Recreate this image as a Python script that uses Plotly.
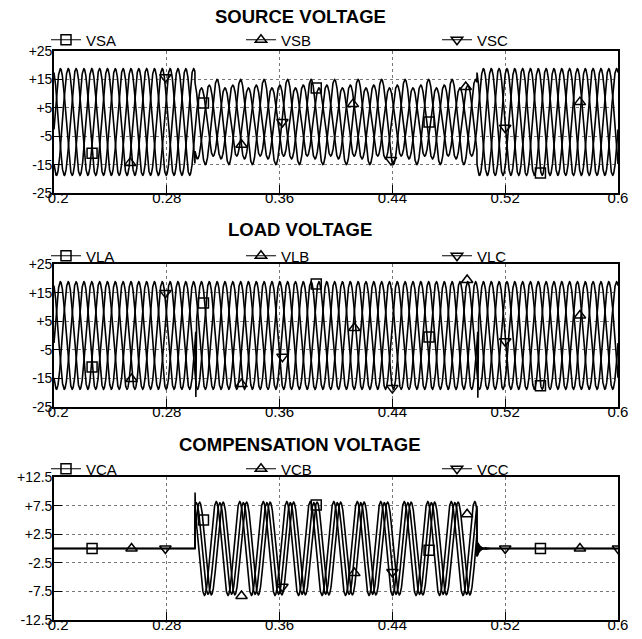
import numpy as np
import plotly.graph_objects as go

# ---------------- data ----------------
FREQ_HZ = 60.0
T_START, T_END = 0.2, 0.6
SAG_START, SAG_END = 0.3, 0.5

X_TICKS = [0.2, 0.28, 0.36, 0.44, 0.52, 0.6]
X_TICK_LABELS = ["\u00a0\u00a00.2", "0.28", "0.36", "0.44", "0.52", "0.6"]
V_TICKS = [25, 15, 5, -5, -15, -25]
V_TICK_LABELS = ["+25", "+15", "+5", "-5", "-15", "-25"]
C_TICKS = [12.5, 7.5, 2.5, -2.5, -7.5, -12.5]
C_TICK_LABELS = ["+12.5", "+7.5", "+2.5", "-2.5", "-7.5", "-12.5"]

PHASE_ANGLES_DEG = [-8, -128, 112]          # phases A, B, C
SOURCE_AMP_NORMAL = [18.8, 18.8, 18.8]
SOURCE_AMP_SAG = [12.0, 13.0, 15.0]
LOAD_AMP = [18.8, 18.8, 18.8]
LOAD_SPIKE_TIMES = [0.3006, 0.5006]
LOAD_SPIKE_VALUES = [-21.5, -21.8]
COMP_AMP_SAG = [8.1, 8.0, 8.2]
COMP_ANGLES_DEG = [20, 70, 125]
COMP_ONSET_SPIKE = 9.8
COMP_RING_AMP = 1.5
COMP_RING_HZ = 2500.0
COMP_RING_TAU = 0.0018

SOURCE_NAMES = ["VSA", "VSB", "VSC"]
LOAD_NAMES = ["VLA", "VLB", "VLC"]
COMP_NAMES = ["VCA", "VCB", "VCC"]
SYMBOLS = ["square-open", "triangle-up-open", "triangle-down-open"]

VSA_MARK_T = [0.227, 0.306, 0.386, 0.466, 0.545]
VSA_MARK_V = [-11.0, 6.7, 12.0, 0.0, -18.0]
VSB_MARK_T = [0.254, 0.333, 0.412, 0.492, 0.573]
VSB_MARK_V = [-14.4, -8.0, 6.3, 12.3, 7.0]
VSC_MARK_T = [0.279, 0.362, 0.439, 0.520]
VSC_MARK_V = [15.8, 0.0, -13.4, -2.0]

VLA_MARK_T = [0.227, 0.306, 0.386, 0.466, 0.545]
VLA_MARK_V = [-11.0, 11.4, 18.0, -0.5, -17.6]
VLB_MARK_T = [0.255, 0.333, 0.413, 0.493, 0.573]
VLB_MARK_V = [-15.2, -17.0, 2.6, 19.4, 7.0]
VLC_MARK_T = [0.279, 0.362, 0.440, 0.520]
VLC_MARK_V = [14.9, -7.4, -18.4, -2.0]

VCA_MARK_T = [0.227, 0.306, 0.386, 0.466, 0.545]
VCA_MARK_V = [0.0, 5.0, 7.6, -0.3, 0.0]
VCB_MARK_T = [0.255, 0.333, 0.413, 0.493, 0.573]
VCB_MARK_V = [0.0, -8.3, -4.3, 6.0, 0.0]
VCC_MARK_T = [0.279, 0.362, 0.440, 0.520, 0.600]
VCC_MARK_V = [0.0, -6.7, -4.1, 0.0, 0.0]

TITLES = ["SOURCE VOLTAGE", "LOAD VOLTAGE", "COMPENSATION VOLTAGE"]

# ---------------- waveforms ----------------
N_SAMPLES = 8001
t = np.linspace(T_START, T_END, N_SAMPLES)
w = 2 * np.pi * FREQ_HZ
in_sag = (t >= SAG_START) & (t < SAG_END)
after_sag = t >= SAG_END

source = []
load = []
comp = []
for k in range(3):
    ang = np.deg2rad(PHASE_ANGLES_DEG[k])
    amp = np.where(in_sag, SOURCE_AMP_SAG[k], SOURCE_AMP_NORMAL[k])
    source.append(amp * np.sin(w * t + ang))
    vl = LOAD_AMP[k] * np.sin(w * t + ang)
    if k == 0:
        for ts, vs in zip(LOAD_SPIKE_TIMES, LOAD_SPIKE_VALUES):
            vl[np.argmin(np.abs(t - ts))] = vs
    load.append(vl)
    cang = np.deg2rad(COMP_ANGLES_DEG[k])
    vc = np.where(in_sag, COMP_AMP_SAG[k] * np.sin(w * t + cang), 0.0)
    ring = COMP_RING_AMP * np.exp(-(t - SAG_END) / COMP_RING_TAU) * \
        np.sin(2 * np.pi * COMP_RING_HZ * (t - SAG_END) + k * 2.1)
    vc = vc + np.where(after_sag, ring, 0.0)
    if k == 0:
        vc[np.argmax(t >= SAG_START) + 1] = COMP_ONSET_SPIKE
    comp.append(vc)

marks = [
    [(VSA_MARK_T, VSA_MARK_V), (VSB_MARK_T, VSB_MARK_V), (VSC_MARK_T, VSC_MARK_V)],
    [(VLA_MARK_T, VLA_MARK_V), (VLB_MARK_T, VLB_MARK_V), (VLC_MARK_T, VLC_MARK_V)],
    [(VCA_MARK_T, VCA_MARK_V), (VCB_MARK_T, VCB_MARK_V), (VCC_MARK_T, VCC_MARK_V)],
]
waves = [source, load, comp]
names = [SOURCE_NAMES, LOAD_NAMES, COMP_NAMES]

# ---------------- layout geometry (window pixels) ----------------
W, H = 642, 639
REF_L, REF_R, REF_T, REF_B = 54, 618, 51, 620   # plot block
ML, MR, MT, MB = REF_L, W - REF_R, REF_T, H - REF_B
PW = W - ML - MR
PH = H - MT - MB


def px_x(p):
    return (p - REF_L) / PW


def px_y(p):
    return (REF_B - p) / PH


panel_px = [(51, 193), (264, 407), (477, 620)]
title_px_y = [17, 230, 444]
legend_px_y = [40, 256, 469]
legend_px_x = [46, 241, 437]

FONT = "Liberation Sans, Arial, sans-serif"
LINE_W = 1.6

fig = go.Figure()
leg_idx = 0
for p in range(3):
    xa = "x" if p == 0 else f"x{p + 1}"
    ya = "y" if p == 0 else f"y{p + 1}"
    for k in range(3):
        fig.add_trace(go.Scatter(
            x=t, y=waves[p][k], mode="lines", xaxis=xa, yaxis=ya,
            line=dict(color="black", width=LINE_W), showlegend=False,
            hoverinfo="skip"))
    for k in range(3):
        mt, mv = marks[p][k]
        fig.add_trace(go.Scatter(
            x=mt, y=mv, mode="markers", xaxis=xa, yaxis=ya,
            marker=dict(symbol=SYMBOLS[k], size=10, color="black",
                        line=dict(color="black", width=1.5)),
            showlegend=False))
    for k in range(3):
        leg_idx += 1
        lname = "legend" if leg_idx == 1 else f"legend{leg_idx}"
        fig.add_trace(go.Scatter(
            x=[None], y=[None], mode="lines+markers", name=names[p][k],
            xaxis=xa, yaxis=ya, legend=lname,
            line=dict(color="black", width=1.0),
            marker=dict(symbol=SYMBOLS[k], size=10, color="black",
                        line=dict(color="black", width=1.5)),
            showlegend=True))

layout = dict(
    width=W, height=H,
    margin=dict(l=ML, r=MR, t=MT, b=MB, autoexpand=False),
    paper_bgcolor="white", plot_bgcolor="white",
    font=dict(family=FONT, color="black"),
    annotations=[],
)

axis_common = dict(
    showline=True, linecolor="black", linewidth=1.6, mirror=True,
    ticks="inside", ticklen=8, tickcolor="black", tickwidth=1.2,
    showgrid=True, gridcolor="#777777", griddash="dot", gridwidth=1,
    zeroline=False, tickmode="array", automargin=False,
)

for p in range(3):
    top, bot = panel_px[p]
    xkey = "xaxis" if p == 0 else f"xaxis{p + 1}"
    ykey = "yaxis" if p == 0 else f"yaxis{p + 1}"
    xa = "x" if p == 0 else f"x{p + 1}"
    ya = "y" if p == 0 else f"y{p + 1}"
    layout[xkey] = dict(
        axis_common, domain=[0, 1], anchor=ya, range=[T_START, T_END],
        tickvals=X_TICKS, ticktext=X_TICK_LABELS, ticklabelstandoff=-10,
        tickfont=dict(size=15, family=FONT, color="black"))
    if p < 2:
        yt, yl, yr = V_TICKS, V_TICK_LABELS, [-25, 25]
    else:
        yt, yl, yr = C_TICKS, C_TICK_LABELS, [-12.5, 12.5]
    layout[ykey] = dict(
        axis_common, domain=[px_y(bot), px_y(top)], anchor=xa, range=yr,
        tickvals=yt, ticktext=yl, ticklabelstandoff=-3,
        tickfont=dict(size=14, family=FONT, color="black"))
    layout["annotations"].append(dict(
        text=f"<b>{TITLES[p]}</b>", xref="paper", yref="paper",
        x=px_x(300), y=px_y(title_px_y[p]), xanchor="center", yanchor="middle",
        showarrow=False, font=dict(size=18.5, family=FONT, color="black")))

leg_idx = 0
for p in range(3):
    for k in range(3):
        leg_idx += 1
        lname = "legend" if leg_idx == 1 else f"legend{leg_idx}"
        layout[lname] = dict(
            x=px_x(legend_px_x[k]), y=px_y(legend_px_y[p]),
            xanchor="left", yanchor="middle", orientation="h",
            bgcolor="rgba(0,0,0,0)", borderwidth=0,
            font=dict(size=15, family=FONT, color="black"),
            itemwidth=30)

fig.update_layout(**layout)
# place the figure at the window's corner (the default page body has an 8 px margin)
fig.write_html("out.html",
               config={"displayModeBar": False},
               post_script="document.body.style.margin='0px';")
